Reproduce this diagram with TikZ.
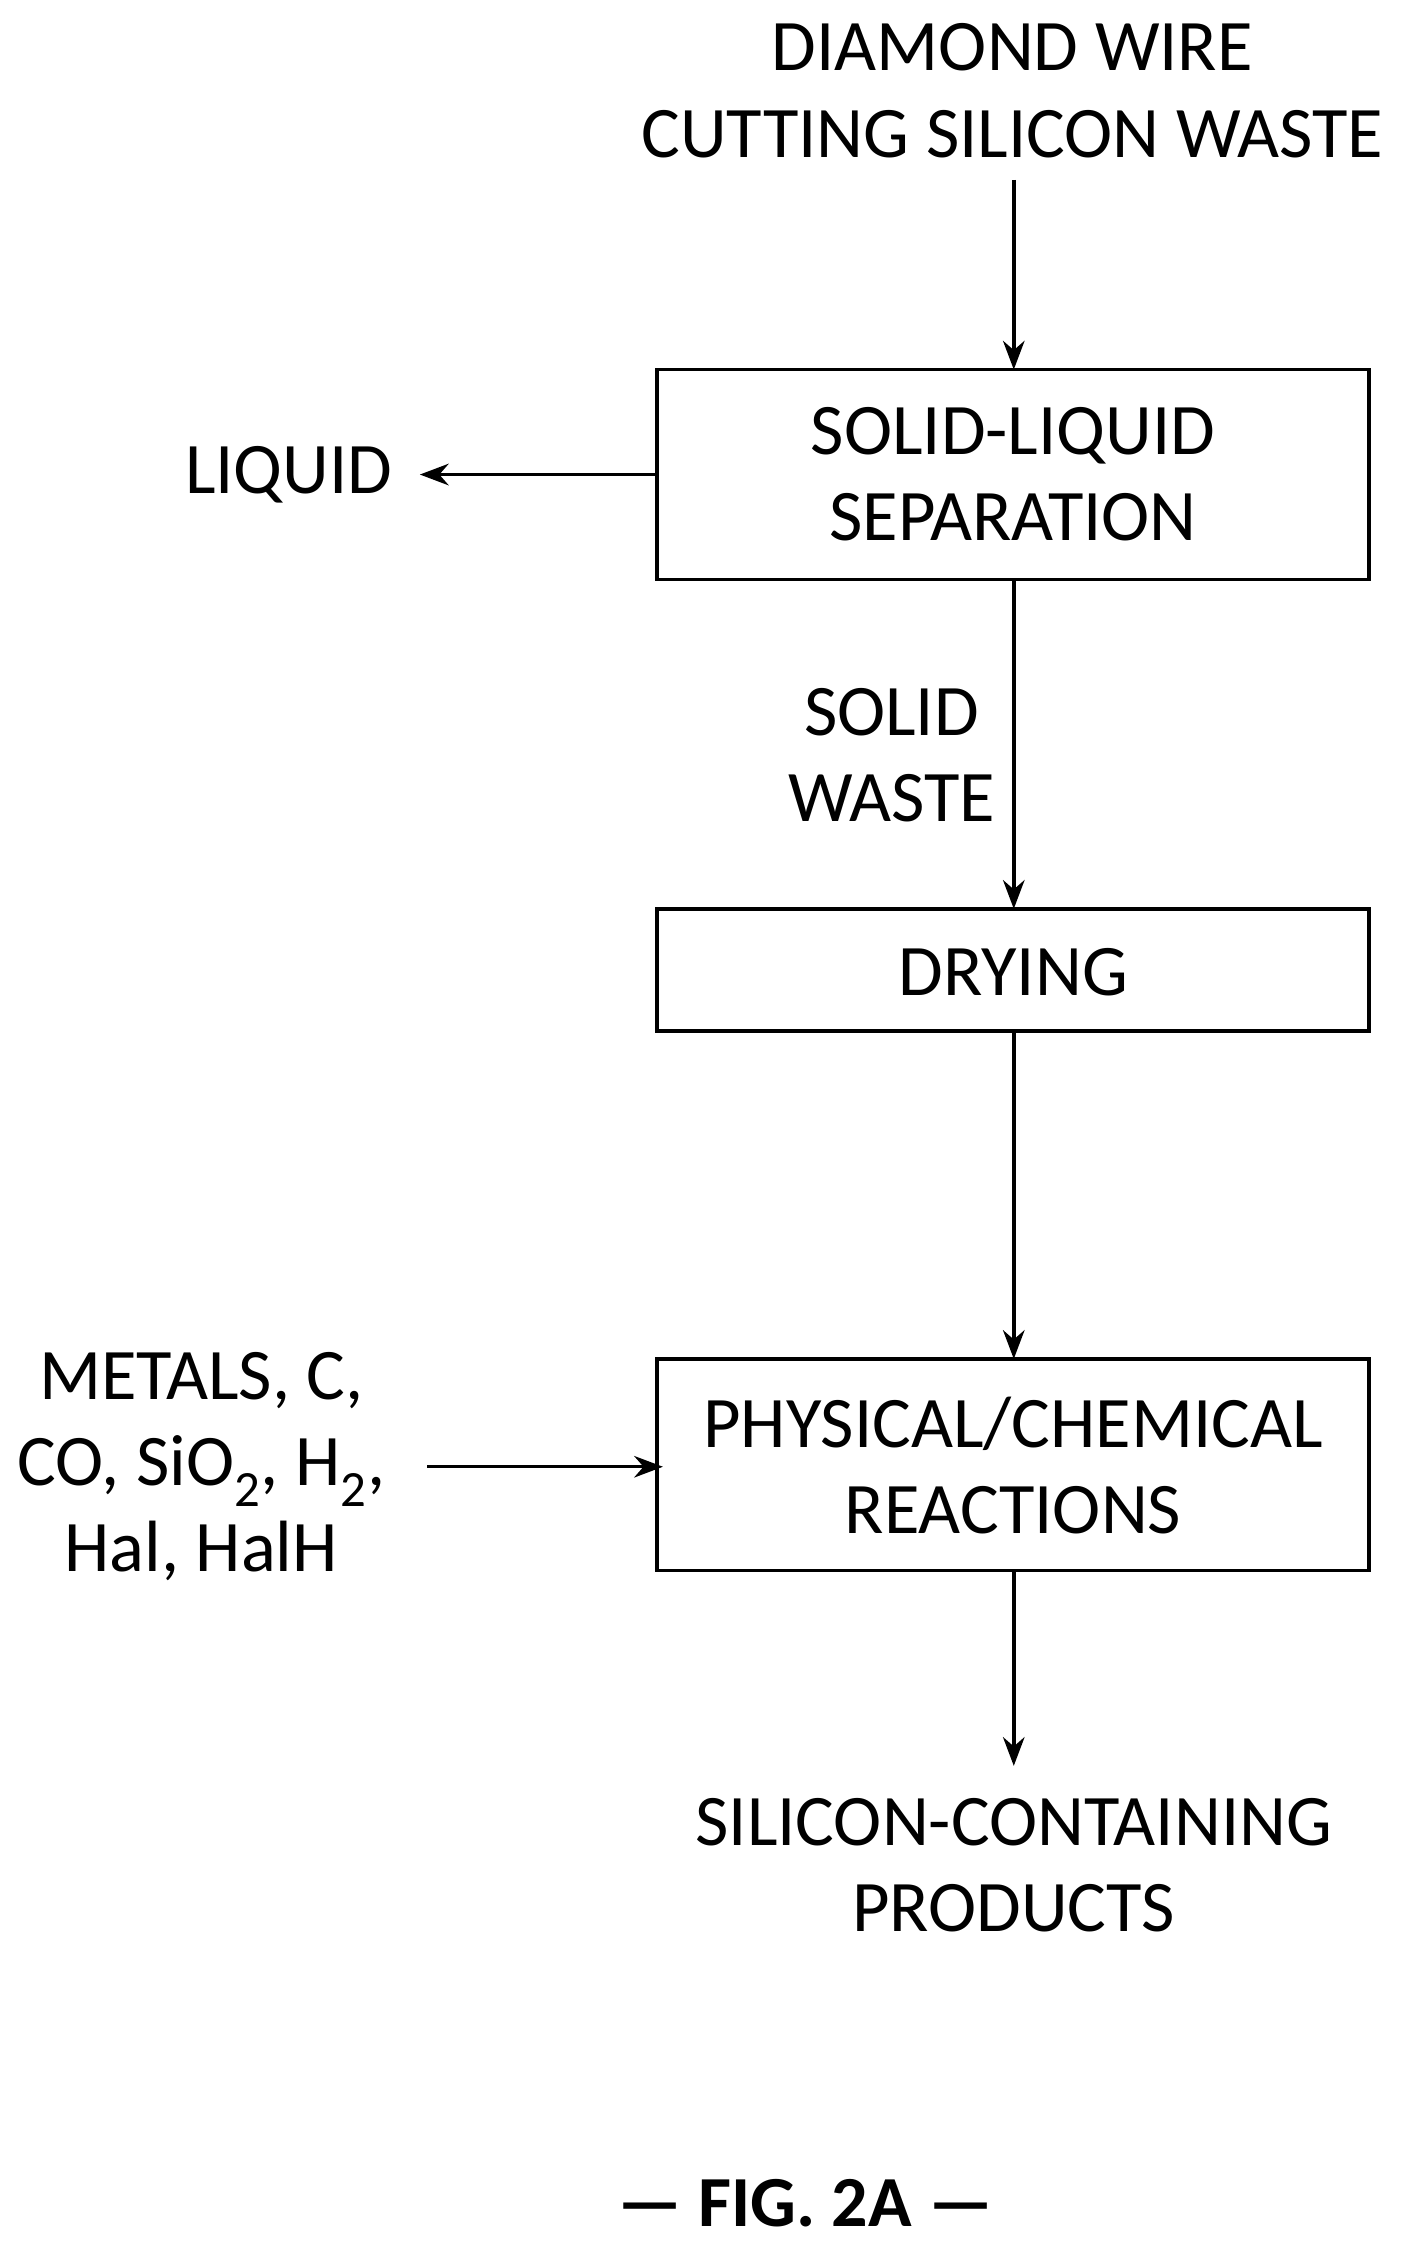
\documentclass[tikz,border=0pt]{standalone}
\usepackage{fontspec}
\setmainfont{Carlito}
\usetikzlibrary{arrows.meta}
\begin{document}
\begin{tikzpicture}[x=1pt,y=-1pt,
  box/.style={draw,line width=2.4pt,inner sep=0pt},
  txt/.style={font=\fontsize{50.5}{60}\selectfont,align=center,inner sep=0pt},
  arr/.style={line width=2.4pt,-{Stealth[length=20pt,width=15pt]}}]
\useasboundingbox (0,0) rectangle (975,1564);
\node[txt] (top) at (704,63) {DIAMOND WIRE\\CUTTING SILICON WASTE};
\draw[box] (457,257) rectangle (952,403);
\node[txt] (sep) at (704.5,330) {SOLID-LIQUID\\SEPARATION};
\coordinate (sepT) at (705,257);
\coordinate (sepB) at (705,403);
\coordinate (sepL) at (457,330);
\node[txt,anchor=east] (liq) at (273,330) {LIQUID};
\draw[box] (457,632) rectangle (952,717);
\node[txt] (dry) at (704.5,676) {DRYING};
\draw[box] (457,945) rectangle (952,1092);
\node[txt] (phys) at (704.5,1019) {PHYSICAL/CHEMICAL\\REACTIONS};
\node[txt] (solid) at (620,525) {SOLID\\WASTE};
\node[txt] (in) at (140,1020) {METALS, C,\\CO, SiO\textsubscript{2}, H\textsubscript{2},\\Hal, HalH};
\node[txt] (prod) at (705,1297) {SILICON-CONTAINING\\PRODUCTS};
\node[font=\fontsize{50}{50}\selectfont\bfseries,inner sep=0pt] (fig) at (560,1532) {--- FIG. 2A ---};
\draw[arr] (705,125) -- (sepT);
\draw[arr] (sepL) -- (292,330);
\draw[arr] (sepB) -- (705,632);
\draw[arr] (705,717) -- (705,945);
\draw[arr] (297,1020) -- (461,1020);
\draw[arr] (705,1092) -- (705,1228);
\end{tikzpicture}
\end{document}
